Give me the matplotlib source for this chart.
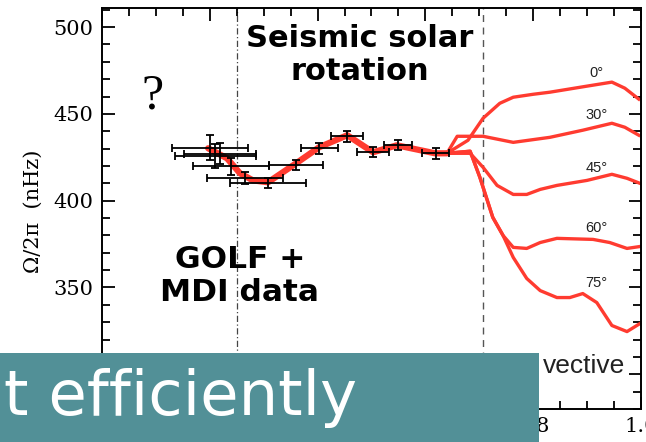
"""Seismic solar rotation profile, slide crop."""

import matplotlib

matplotlib.use("Agg")
import matplotlib.pyplot as plt
from matplotlib.patches import Rectangle
from matplotlib.ticker import MultipleLocator

# GOLF + MDI inversion points (r/R, nHz)
point_r = [0.200, 0.210, 0.219, 0.239, 0.265, 0.308, 0.360, 0.403, 0.455, 0.503, 0.549, 0.619]
point_omega = [430.5, 425.6, 427.0, 419.8, 412.9, 410.0, 420.4, 430.2, 437.1, 427.9, 431.9, 427.3]
point_r_err = [0.070, 0.075, 0.066, 0.070, 0.070, 0.070, 0.050, 0.034, 0.030, 0.030, 0.026, 0.025]
point_omega_err = [7.2, 6.9, 6.1, 5.0, 3.5, 2.9, 2.9, 3.2, 3.2, 2.9, 2.9, 3.2]

# radiative interior profile
core_r = [0.197, 0.232, 0.256, 0.280, 0.308, 0.360, 0.403, 0.455, 0.503, 0.547, 0.618, 0.640]
core_omega = [430.2, 424.4, 415.8, 411.7, 410.6, 421.5, 430.8, 437.7, 427.9, 431.9, 427.3, 427.3]

# convective zone profiles by latitude
lat_0_r = [0.640, 0.679, 0.707, 0.738, 0.763, 0.800, 0.831, 0.900, 0.946, 0.970, 0.996]
lat_0_omega = [427.3, 434.8, 447.5, 456.1, 459.6, 461.3, 462.5, 466.0, 468.3, 464.8, 458.5]
lat_30_r = [0.640, 0.659, 0.707, 0.763, 0.831, 0.892, 0.946, 0.970, 0.996]
lat_30_omega = [427.3, 437.1, 437.1, 433.6, 436.5, 440.6, 444.6, 442.3, 437.7]
lat_45_r = [0.640, 0.683, 0.707, 0.733, 0.763, 0.788, 0.813, 0.844, 0.900, 0.946, 0.974, 0.998]
lat_45_omega = [427.3, 427.3, 419.2, 408.8, 403.6, 403.6, 406.5, 408.8, 411.7, 415.2, 412.9, 410.0]
lat_60_r = [0.640, 0.683, 0.701, 0.725, 0.744, 0.763, 0.788, 0.813, 0.844, 0.911, 0.942, 0.974, 0.998]
lat_60_omega = [427.3, 428.5, 413.5, 390.4, 380.0, 373.1, 372.5, 375.9, 378.3, 377.7, 375.9, 372.5, 373.6]
lat_75_r = [0.640, 0.683, 0.701, 0.725, 0.744, 0.763, 0.788, 0.813, 0.844, 0.868, 0.892, 0.918, 0.946, 0.974, 0.998]
lat_75_omega = [427.3, 428.5, 413.5, 390.4, 380.0, 367.3, 355.2, 348.2, 344.2, 344.2, 346.5, 341.3, 328.1, 324.6, 329.2]

lat_labels = ["0°", "30°", "45°", "60°", "75°"]
lat_label_omega = [473.5, 449.2, 418.6, 384.0, 352.3]

# only the ticks not hidden by the slide banner carry labels
x_ticks = [0.0, 0.2, 0.4, 0.6, 0.8, 1.0]
x_tick_labels = ["", "", "", "", "0.8", "1.0"]
y_ticks = [300, 350, 400, 450, 500]
y_tick_labels = ["", "350", "400", "450", "500"]

RED = "#ff3b30"
TEAL = "#529097"
W, H = 646, 442

fig = plt.figure(figsize=(W / 100, H / 100), dpi=100)
ax = fig.add_axes([102 / W, 33 / H, 539 / W, 401 / H])

ax.plot(core_r, core_omega, color=RED, lw=4.5, solid_capstyle="round", zorder=2)
for r, om in [(lat_0_r, lat_0_omega), (lat_30_r, lat_30_omega), (lat_45_r, lat_45_omega),
              (lat_60_r, lat_60_omega), (lat_75_r, lat_75_omega)]:
    ax.plot(r, om, color=RED, lw=2.4, zorder=2)

ax.errorbar(point_r, point_omega, xerr=point_r_err, yerr=point_omega_err, fmt="none",
            ecolor="black", elinewidth=1.3, capsize=3, capthick=1.3, zorder=3)

ax.axvline(0.25, color="#444444", lw=0.9, ls=(0, (5, 2, 1, 2)), zorder=1)
ax.axvline(0.707, color="#555555", lw=1.0, ls=(0, (5, 4)), zorder=1)

for label, om in zip(lat_labels, lat_label_omega):
    ax.text(0.918, om, label, ha="center", va="center", fontsize=10.5,
            family="Liberation Sans", color="#222222")

ax.text(0.97, 305, "vective", ha="right", va="center", fontsize=19,
        family="Liberation Sans", color="#222222")

ax.set_xlim(0, 1.0)
ax.set_ylim(280, 511)
ax.xaxis.set_minor_locator(MultipleLocator(0.05))
ax.yaxis.set_minor_locator(MultipleLocator(10))
ax.set_xticks(x_ticks)
ax.set_xticklabels(x_tick_labels)
ax.set_yticks(y_ticks)
ax.set_yticklabels(y_tick_labels)
ax.tick_params(which="both", direction="in", top=True, right=True, width=1.3)
ax.tick_params(which="major", length=9, labelsize=15, pad=6)
ax.tick_params(which="minor", length=5.5)
for lab in ax.get_xticklabels() + ax.get_yticklabels():
    lab.set_family("DejaVu Serif")
for spine in ax.spines.values():
    spine.set_linewidth(1.4)

fig.text(33 / W, 1 - 211 / H, "Ω/2π  (nHz)", rotation=90, ha="center", va="center",
         fontsize=15, family="DejaVu Serif")

# slide annotations
fig.text(153 / W, 1 - 96 / H, "?", ha="center", va="center", fontsize=36,
         family="Liberation Serif")
fig.text(360 / W, 1 - 55 / H, "Seismic solar\nrotation", ha="center", va="center",
         fontsize=22, fontweight="bold", family="DejaVu Sans", linespacing=1.2)
fig.text(240 / W, 1 - 276 / H, "GOLF +\nMDI data", ha="center", va="center",
         fontsize=22.5, fontweight="bold", family="DejaVu Sans", linespacing=1.2)

fig.patches.append(Rectangle((0, 0), 539 / W, 89 / H, transform=fig.transFigure,
                             facecolor=TEAL, edgecolor="none", zorder=10))
fig.text(4 / W, 1 - 415 / H, "t efficiently", ha="left", va="baseline", fontsize=45,
         color="white", family="DejaVu Sans", zorder=11)

fig.savefig("out.png", dpi=100)
